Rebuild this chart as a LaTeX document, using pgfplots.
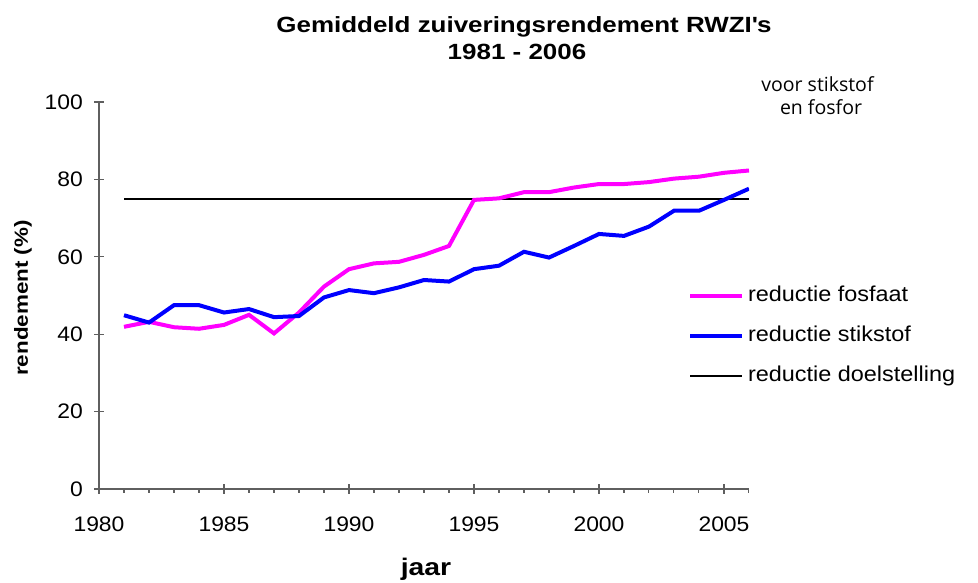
\documentclass[border=0pt]{standalone}
\usepackage{fontspec}
\setmainfont{Liberation Sans}[FakeStretch=1.09, BoldFeatures={FakeStretch=1.18}]
\newfontfamily\segoe{Open Sans}
\usepackage{pgfplots}
\usepackage{pgfplotstable}
\pgfplotsset{compat=1.18}
\definecolor{fos}{RGB}{255,0,255}
\definecolor{stik}{RGB}{0,0,255}
\definecolor{axgray}{RGB}{95,95,95}

\pgfplotstableread{
year fosfaat stikstof
1981 41.9 44.9
1982 43.2 43.0
1983 41.8 47.5
1984 41.4 47.5
1985 42.4 45.6
1986 45.0 46.5
1987 40.2 44.4
1988 45.6 44.7
1989 52.3 49.5
1990 56.8 51.4
1991 58.3 50.6
1992 58.7 52.1
1993 60.5 54.0
1994 62.8 53.6
1995 74.7 56.8
1996 75.1 57.7
1997 76.7 61.3
1998 76.7 59.8
1999 77.9 62.8
2000 78.8 65.9
2001 78.8 65.4
2002 79.3 67.8
2003 80.2 71.9
2004 80.7 71.9
2005 81.7 74.7
2006 82.3 77.6
}\datatable

\pgfplotstableread{
year doel
1981 75
2006 75
}\doeltable

\begin{document}
\begin{tikzpicture}[x=1pt,y=1pt]
\useasboundingbox (0,0) rectangle (978,583);
\begin{axis}[
  at={(99pt,94pt)}, anchor=south west,
  scale only axis, width=650pt, height=387pt,
  xmin=1980, xmax=2006, ymin=0, ymax=100,
  axis lines*=left,
  xtick={1980,1985,...,2005},
  minor xtick={1980,...,2006},
  ytick={0,20,...,100},
  tick align=center,
  major tick length=10pt,
  minor tick length=4pt,
  minor x tick style={yshift=-2pt},
  axis line style={axgray, line width=1.3pt},
  tick style={axgray, line width=1.1pt},
  /pgf/number format/assume math mode=true,
  /pgf/number format/1000 sep={},
  xticklabel style={font=\fontsize{21}{25}\selectfont, anchor=base, yshift=-38pt},
  yticklabel style={font=\fontsize{21}{25}\selectfont, anchor=east, inner xsep=0pt, xshift=-11pt},
  legend style={
    at={(axis description cs:0.9062,0.5245)}, anchor=north west,
    draw=none, fill=none, inner sep=0pt, outer sep=0pt,
    font=\fontsize{21.5}{25}\selectfont,
    row sep=20pt, column sep=4pt,
    nodes={inner sep=0pt, text height=15pt, text depth=5pt},
  },
  legend cell align=left,
  legend image code/.code={\draw[#1] (0pt,0pt) -- (52pt,0pt);},
]
\addplot[black, line width=1.6pt, forget plot] table[x=year, y=doel] {\doeltable};
\addplot[fos, line width=4pt] table[x=year, y=fosfaat] {\datatable};
\addlegendentry{reductie fosfaat}
\addplot[stik, line width=4pt] table[x=year, y=stikstof] {\datatable};
\addlegendentry{reductie stikstof}
\addlegendimage{black, line width=1.6pt}
\addlegendentry{reductie doelstelling}
\end{axis}
\node[font=\bfseries\fontsize{22}{26}\selectfont, anchor=base] at (524,550) {Gemiddeld zuiveringsrendement RWZI\textquotesingle s};
\node[font=\bfseries\fontsize{22}{26}\selectfont, anchor=base] at (517,523) {1981 - 2006};
\node[font=\bfseries\fontsize{19}{23}\selectfont, rotate=90] at (23,285) {rendement (\%)};
\node[font=\bfseries\fontsize{24}{28}\selectfont, anchor=base] at (426,7) {jaar};
\node[font=\segoe\fontsize{19.5}{23}\selectfont, anchor=base] at (817.5,491) {voor stikstof};
\node[font=\segoe\fontsize{19.5}{23}\selectfont, anchor=base] at (821,468) {en fosfor};
\end{tikzpicture}
\end{document}
